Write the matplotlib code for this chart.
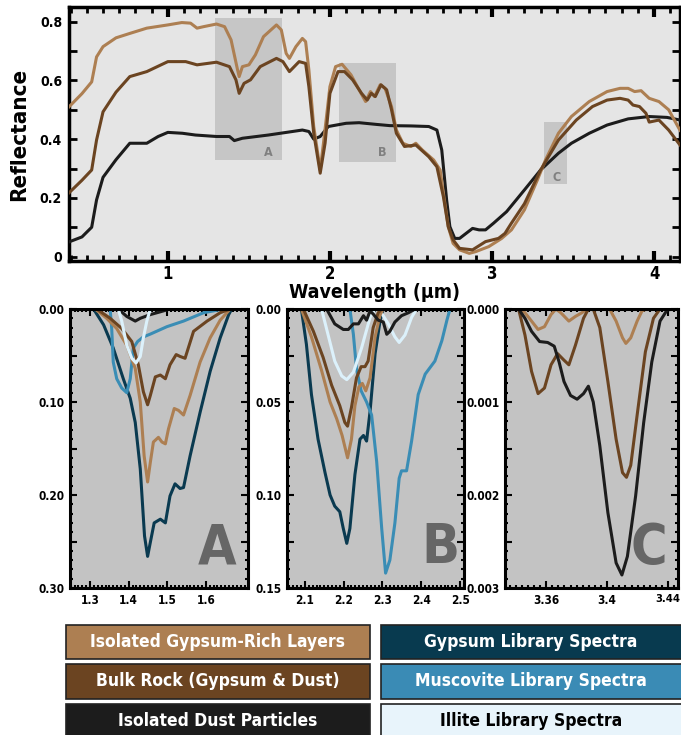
import numpy as np
import matplotlib.pyplot as plt
from matplotlib.patches import Rectangle
from matplotlib.ticker import MultipleLocator, FuncFormatter

plt.rcParams['font.family'] = ['DejaVu Sans']
plt.rcParams['font.stretch'] = 'condensed'
plt.rcParams['font.weight'] = 'bold'

# ---------------- colours ----------------
C_GYP_RICH = '#ad7f52'
C_BULK = '#6b4421'
C_DUST = '#1c1c1c'
C_GYP_LIB = '#0a3a50'
C_MUSC = '#3a8db5'
C_ILL = '#dcf1fb'

# ---------------- full spectra (top panel) ----------------
wl_rich = [0.39, 0.47, 0.53, 0.56, 0.60, 0.68, 0.765, 0.87, 1.0, 1.086, 1.14, 1.18, 1.22, 1.30,
           1.35, 1.39, 1.43, 1.44, 1.46, 1.50, 1.54, 1.59, 1.67, 1.70, 1.73, 1.75, 1.79, 1.83,
           1.85, 1.87, 1.90, 1.94, 1.96, 2.0, 2.035, 2.075, 2.13, 2.18, 2.22, 2.25, 2.275, 2.31,
           2.34, 2.38, 2.41, 2.45, 2.50, 2.53, 2.57, 2.64, 2.68, 2.70, 2.73, 2.76, 2.80, 2.86,
           2.90, 2.98, 3.06, 3.12, 3.20, 3.28, 3.33, 3.41, 3.49, 3.60, 3.71, 3.79, 3.84, 3.88,
           3.92, 3.97, 4.03, 4.09, 4.16]
r_rich = [0.51, 0.555, 0.595, 0.68, 0.715, 0.745, 0.76, 0.778, 0.789, 0.797, 0.795, 0.778, 0.783, 0.792,
          0.783, 0.738, 0.636, 0.613, 0.647, 0.653, 0.687, 0.749, 0.789, 0.772, 0.692, 0.675, 0.715, 0.743,
          0.732, 0.636, 0.443, 0.295, 0.386, 0.579, 0.647, 0.655, 0.619, 0.568, 0.528, 0.562, 0.545, 0.585,
          0.573, 0.511, 0.431, 0.386, 0.375, 0.386, 0.363, 0.329, 0.295, 0.216, 0.102, 0.045, 0.023, 0.011,
          0.017, 0.034, 0.062, 0.091, 0.159, 0.261, 0.329, 0.42, 0.477, 0.528, 0.562, 0.573, 0.573, 0.562,
          0.565, 0.539, 0.528, 0.50, 0.43]

wl_bulk = [0.39, 0.47, 0.53, 0.56, 0.60, 0.68, 0.765, 0.87, 1.0, 1.11, 1.18, 1.30, 1.38, 1.42,
           1.44, 1.47, 1.51, 1.57, 1.67, 1.71, 1.75, 1.81, 1.85, 1.87, 1.90, 1.94, 1.97, 2.0,
           2.05, 2.09, 2.14, 2.195, 2.23, 2.255, 2.28, 2.315, 2.35, 2.38, 2.41, 2.46, 2.53, 2.61,
           2.66, 2.70, 2.73, 2.76, 2.80, 2.88, 2.96, 3.04, 3.08, 3.12, 3.20, 3.30, 3.41, 3.52,
           3.62, 3.71, 3.79, 3.84, 3.87, 3.91, 3.95, 3.97, 4.03, 4.09, 4.16]
r_bulk = [0.217, 0.26, 0.295, 0.397, 0.493, 0.56, 0.613, 0.63, 0.664, 0.664, 0.653, 0.662, 0.647, 0.602,
          0.556, 0.59, 0.602, 0.647, 0.675, 0.664, 0.63, 0.664, 0.658, 0.579, 0.42, 0.284, 0.386, 0.556,
          0.63, 0.63, 0.602, 0.556, 0.533, 0.556, 0.545, 0.585, 0.568, 0.50, 0.42, 0.375, 0.38, 0.34,
          0.306, 0.204, 0.102, 0.057, 0.028, 0.023, 0.051, 0.062, 0.079, 0.114, 0.18, 0.295, 0.397, 0.465,
          0.511, 0.533, 0.539, 0.533, 0.516, 0.511, 0.488, 0.458, 0.465, 0.431, 0.38]

wl_dust = [0.39, 0.47, 0.53, 0.56, 0.60, 0.68, 0.765, 0.87, 0.94, 1.0, 1.09, 1.17, 1.30, 1.38,
           1.41, 1.46, 1.62, 1.83, 1.87, 1.90, 1.94, 1.99, 2.10, 2.18, 2.29, 2.37, 2.50, 2.61,
           2.66, 2.69, 2.72, 2.74, 2.77, 2.80, 2.84, 2.88, 2.92, 2.96, 3.01, 3.09, 3.20, 3.30,
           3.41, 3.49, 3.60, 3.71, 3.84, 3.97, 4.08, 4.16]
r_dust = [0.05, 0.067, 0.10, 0.193, 0.27, 0.33, 0.386, 0.386, 0.409, 0.423, 0.42, 0.414, 0.409, 0.409,
          0.395, 0.403, 0.414, 0.431, 0.426, 0.40, 0.409, 0.443, 0.454, 0.456, 0.45, 0.446, 0.445, 0.443,
          0.431, 0.363, 0.193, 0.102, 0.062, 0.062, 0.079, 0.096, 0.091, 0.091, 0.114, 0.153, 0.227, 0.295,
          0.352, 0.386, 0.42, 0.448, 0.469, 0.477, 0.474, 0.465]

# zoom windows drawn on the top panel
box_names = ['A', 'B', 'C']
box_x = [(1.293, 1.705), (2.057, 2.406), (3.32, 3.465)]
box_y = [(0.329, 0.813), (0.321, 0.66), (0.248, 0.458)]
box_label_pos = [(1.62, 0.356), (2.32, 0.353), (3.40, 0.27)]

# ---------------- band depth, window A ----------------
A_gyplib_wl = [1.309, 1.335, 1.36, 1.386, 1.404, 1.417, 1.43, 1.441, 1.449, 1.456, 1.466, 1.482, 1.495,
               1.507, 1.52, 1.533, 1.542, 1.559, 1.585, 1.611, 1.637, 1.659, 1.667]
A_gyplib = [0, 0.017, 0.042, 0.075, 0.096, 0.122, 0.172, 0.244, 0.266, 0.251, 0.23, 0.226, 0.23,
            0.201, 0.188, 0.193, 0.192, 0.158, 0.111, 0.067, 0.031, 0.006, 0]
A_rich_wl = [1.313, 1.343, 1.369, 1.395, 1.417, 1.43, 1.44, 1.449, 1.456, 1.464, 1.477, 1.486, 1.495,
             1.503, 1.518, 1.529, 1.542, 1.559, 1.585, 1.611, 1.637, 1.663]
A_rich = [0, 0.01, 0.021, 0.039, 0.064, 0.10, 0.158, 0.186, 0.165, 0.143, 0.138, 0.143, 0.145,
          0.129, 0.107, 0.109, 0.114, 0.093, 0.057, 0.031, 0.012, 0]
A_bulk_wl = [1.317, 1.352, 1.382, 1.408, 1.425, 1.438, 1.449, 1.456, 1.469, 1.482, 1.495, 1.507, 1.523,
             1.533, 1.546, 1.568, 1.603, 1.637, 1.663]
A_bulk = [0, 0.01, 0.021, 0.035, 0.06, 0.089, 0.103, 0.093, 0.073, 0.071, 0.075, 0.06, 0.049,
          0.051, 0.053, 0.024, 0.013, 0.004, 0]
A_musc_wl = [1.352, 1.356, 1.36, 1.369, 1.382, 1.395, 1.404, 1.412, 1.423, 1.438, 1.456, 1.499, 1.542,
             1.594, 1.646]
A_musc = [0, 0.021, 0.057, 0.075, 0.085, 0.09, 0.075, 0.042, 0.035, 0.03, 0.027, 0.019, 0.013,
          0.004, 0]
A_ill_wl = [1.373, 1.382, 1.395, 1.408, 1.419, 1.43, 1.438, 1.447, 1.456]
A_ill = [0, 0.013, 0.039, 0.053, 0.058, 0.051, 0.031, 0.013, 0]
A_dust_wl = [1.373, 1.395, 1.417, 1.43, 1.456, 1.482, 1.507]
A_dust = [0, 0.008, 0.013, 0.010, 0.006, 0.003, 0]

# ---------------- band depth, window B ----------------
B_gyplib_wl = [2.091, 2.104, 2.117, 2.134, 2.152, 2.165, 2.177, 2.19, 2.199, 2.208, 2.216, 2.229, 2.242,
               2.251, 2.259, 2.268, 2.281, 2.294, 2.302]
B_gyplib = [0, 0.019, 0.046, 0.07, 0.088, 0.10, 0.106, 0.109, 0.118, 0.126, 0.118, 0.089, 0.07,
            0.068, 0.071, 0.055, 0.024, 0.006, 0]
B_rich_wl = [2.091, 2.117, 2.143, 2.165, 2.182, 2.196, 2.21, 2.22, 2.229, 2.239, 2.248, 2.257, 2.268,
             2.281, 2.294, 2.302]
B_rich = [0, 0.015, 0.033, 0.05, 0.059, 0.068, 0.08, 0.07, 0.052, 0.042, 0.04, 0.044, 0.037,
          0.015, 0.003, 0]
B_bulk_wl = [2.096, 2.122, 2.147, 2.169, 2.19, 2.203, 2.21, 2.22, 2.233, 2.245, 2.255, 2.263, 2.276,
             2.289, 2.298]
B_bulk = [0, 0.012, 0.026, 0.041, 0.052, 0.061, 0.063, 0.053, 0.037, 0.031, 0.031, 0.028, 0.01,
          0.002, 0]
B_ill_wl = [2.143, 2.16, 2.177, 2.195, 2.208, 2.225, 2.246, 2.268, 2.281, 2.294, 2.315, 2.332, 2.343,
            2.358, 2.375, 2.388]
B_ill = [0, 0.014, 0.028, 0.036, 0.038, 0.034, 0.021, 0.0045, 0, 0.001, 0.008, 0.015, 0.018,
         0.014, 0.0045, 0]
B_musc_wl = [2.216, 2.225, 2.233, 2.245, 2.259, 2.272, 2.285, 2.298, 2.308, 2.319, 2.332, 2.343, 2.349,
             2.362, 2.375, 2.392, 2.41, 2.435, 2.453, 2.466, 2.474]
B_musc = [0, 0.0136, 0.032, 0.044, 0.05, 0.057, 0.082, 0.118, 0.142, 0.135, 0.115, 0.091, 0.087,
          0.087, 0.071, 0.046, 0.035, 0.028, 0.017, 0.006, 0]
B_dust_wl = [2.156, 2.177, 2.199, 2.212, 2.225, 2.238, 2.251, 2.259, 2.268, 2.276, 2.289, 2.302, 2.311,
             2.319, 2.332, 2.349, 2.367, 2.384]
B_dust = [0, 0.008, 0.011, 0.011, 0.008, 0.008, 0.0036, 0.006, 0.001, 0.0027, 0.006, 0.007, 0.0136,
          0.012, 0.007, 0.0036, 0.002, 0]

# ---------------- band depth, window C ----------------
C_dust_wl = [3.3419, 3.3461, 3.3504, 3.3557, 3.361, 3.3653, 3.3685, 3.3717, 3.376, 3.3803, 3.3845,
             3.3877, 3.3909, 3.3952, 3.4005, 3.4059, 3.4097, 3.4133, 3.4187, 3.424, 3.4293, 3.4347,
             3.4394, 3.4443]
C_dust = [0, 0.0001, 0.00024, 0.00035, 0.00036, 0.0004, 0.00057, 0.00078, 0.00093, 0.00097, 0.00091,
          0.00083, 0.001, 0.00147, 0.00219, 0.00273, 0.00286, 0.00266, 0.00201, 0.00122, 0.00057, 0.00013,
          0.00001, 0]
C_bulk_wl = [3.3419, 3.3461, 3.3504, 3.3547, 3.3589, 3.3632, 3.3675, 3.3717, 3.3749, 3.3792, 3.3845,
             3.3877, 3.3909, 3.3952, 3.4005, 3.4059, 3.4101, 3.4127, 3.4155, 3.4197, 3.4251, 3.4304,
             3.4347, 3.4443]
C_bulk = [0, 0.00028, 0.00067, 0.00091, 0.00085, 0.0006, 0.00048, 0.00055, 0.0006, 0.00039, 0.0001,
          0, 0, 0.0002, 0.00078, 0.0014, 0.00176, 0.00181, 0.00168, 0.00114, 0.00046, 0.0001,
          0, 0]
C_rich_wl = [3.3419, 3.3461, 3.3504, 3.3547, 3.3589, 3.3632, 3.3664, 3.3696, 3.3749, 3.3792, 3.3835,
             3.3867, 3.4016, 3.4059, 3.4101, 3.4123, 3.4155, 3.4197, 3.4229, 3.4261]
C_rich = [0, 0.00004, 0.00013, 0.00022, 0.00019, 0.00006, 0, 0.00004, 0.00013, 0.00008, 0.00004,
          0, 0, 0.00013, 0.00031, 0.00037, 0.00031, 0.00013, 0.00002, 0]

# ---------------- legend ----------------
legend_left = ['Isolated Gypsum-Rich Layers', 'Bulk Rock (Gypsum & Dust)', 'Isolated Dust Particles']
legend_left_col = [C_GYP_RICH, C_BULK, C_DUST]
legend_right = ['Gypsum Library Spectra', 'Muscovite Library Spectra', 'Illite Library Spectra']
legend_right_col = ['#083a4f', '#3a8bb5', '#e8f4fb']
legend_right_txt = ['white', 'white', 'black']

W, H = 681, 735
fig = plt.figure(figsize=(W / 100, H / 100), dpi=100)
fig.patch.set_facecolor('white')


def px_axes(x0, y0, x1, y1):
    return fig.add_axes([x0 / W, 1 - y1 / H, (x1 - x0) / W, (y1 - y0) / H])


def style_spines(ax, lw=2.2):
    for s in ax.spines.values():
        s.set_linewidth(lw)
        s.set_color('black')


# ---------- top panel ----------
ax = px_axes(69, 7, 680, 261)
ax.set_facecolor('#e5e5e5')
for (x0, x1), (y0, y1), name, (tx, ty) in zip(box_x, box_y, box_names, box_label_pos):
    ax.add_patch(Rectangle((x0, y0), x1 - x0, y1 - y0, facecolor='#c6c6c6', edgecolor='none', zorder=1))
    ax.text(tx, ty, name, color='#808080', fontsize=9, fontweight='bold', ha='center', va='center', zorder=2)

ax.plot(wl_dust, r_dust, color=C_DUST, lw=2.2, zorder=3)
ax.plot(wl_rich, r_rich, color=C_GYP_RICH, lw=2.2, zorder=4)
ax.plot(wl_bulk, r_bulk, color=C_BULK, lw=2.2, zorder=5)

ax.set_xlim(0.39, 4.16)
ax.set_ylim(-0.015, 0.85)
ax.xaxis.set_major_locator(MultipleLocator(1))
ax.xaxis.set_minor_locator(MultipleLocator(0.1))
ax.yaxis.set_major_locator(MultipleLocator(0.2))
ax.yaxis.set_minor_locator(MultipleLocator(0.1))
ax.yaxis.set_major_formatter(FuncFormatter(lambda v, p: '0' if abs(v) < 1e-9 else '%.1f' % v))
ax.tick_params(which='both', direction='in', top=True, right=True, width=2)
ax.tick_params(which='major', length=6)
ax.tick_params(which='minor', length=4)
ax.tick_params(axis='x', which='major', labelsize=12, pad=3, length=7, width=3)
ax.tick_params(axis='y', which='major', labelsize=10, pad=5)
ax.tick_params(axis='y', which='minor', length=6)
ax.set_ylabel('Reflectance', fontsize=16, fontweight='bold', labelpad=8)
ax.set_xlabel('Wavelength (\u00b5m)', fontsize=14, fontweight='bold', labelpad=0)
style_spines(ax, 2.5)


# ---------- zoom panels ----------
def zoom_panel(x0, x1, xlim, ylim, xmaj, xmin, ymaj, ymid, ymin, yfmt, xfmt, letter, lx):
    a = px_axes(x0, 309, x1, 588)
    a.set_facecolor('#c3c3c3')
    a.set_xlim(*xlim)
    a.set_ylim(ylim[1], ylim[0])
    a.set_xticks(xmaj)
    a.set_xticklabels([xfmt % v for v in xmaj])
    a.xaxis.set_minor_locator(MultipleLocator(xmin))
    a.set_yticks(ymid)
    a.set_yticklabels([yfmt % v if any(abs(v - m) < 1e-9 for m in ymaj) else '' for v in ymid])
    a.yaxis.set_minor_locator(MultipleLocator(ymin))
    a.tick_params(which='both', direction='in', top=True, right=True, width=1.5)
    a.tick_params(which='major', length=5, labelsize=8.5, pad=4)
    a.tick_params(which='minor', length=2.5)
    a.text(lx, 0.045, letter, transform=a.transAxes, fontsize=40, fontweight='bold',
           color='#666666', ha='center', va='bottom', zorder=1)
    style_spines(a, 2.2)
    return a


axA = zoom_panel(70, 248, (1.248, 1.709), (0, 0.30), [1.3, 1.4, 1.5, 1.6], 0.01,
                 [0, 0.1, 0.2, 0.3], [0, 0.05, 0.1, 0.15, 0.2, 0.25, 0.3], 0.01, '%.2f', '%.1f', 'A', 0.825)
axA.plot(A_dust_wl, A_dust, color=C_DUST, lw=2.2)
axA.plot(A_gyplib_wl, A_gyplib, color=C_GYP_LIB, lw=2.2)
axA.plot(A_musc_wl, A_musc, color=C_MUSC, lw=2.2)
axA.plot(A_rich_wl, A_rich, color=C_GYP_RICH, lw=2.2)
axA.plot(A_bulk_wl, A_bulk, color=C_BULK, lw=2.2)
axA.plot(A_ill_wl, A_ill, color=C_ILL, lw=2.2)

axB = zoom_panel(287, 464, (2.054, 2.51), (0, 0.15), [2.1, 2.2, 2.3, 2.4, 2.5], 0.01,
                 [0, 0.05, 0.1, 0.15], [0, 0.025, 0.05, 0.075, 0.1, 0.125, 0.15], 0.005, '%.2f', '%.1f',
                 'B', 0.865)
axB.plot(B_gyplib_wl, B_gyplib, color=C_GYP_LIB, lw=2.2)
axB.plot(B_musc_wl, B_musc, color=C_MUSC, lw=2.2)
axB.plot(B_ill_wl, B_ill, color=C_ILL, lw=2.2)
axB.plot(B_rich_wl, B_rich, color=C_GYP_RICH, lw=2.2)
axB.plot(B_bulk_wl, B_bulk, color=C_BULK, lw=2.2)
axB.plot(B_dust_wl, B_dust, color=C_DUST, lw=2.2)

axC = zoom_panel(505, 678, (3.333, 3.4465), (0, 0.003), [3.36, 3.40, 3.44], 0.004,
                 [0, 0.001, 0.002, 0.003], [0, 0.0005, 0.001, 0.0015, 0.002, 0.0025, 0.003], 0.0001,
                 '%.3f', '%g', 'C', 0.83)
axC.plot(C_rich_wl, C_rich, color=C_GYP_RICH, lw=2.2)
axC.plot(C_bulk_wl, C_bulk, color=C_BULK, lw=2.2)
axC.plot(C_dust_wl, C_dust, color=C_DUST, lw=2.2)
axC.get_xticklabels()[-1].set_fontsize(8)

# ---------- legend boxes ----------
leg = fig.add_axes([0, 0, 1, 120 / H])
leg.set_xlim(0, W)
leg.set_ylim(120, 0)
leg.axis('off')
row_top = [10, 49, 89]
row_h = [34, 35, 35]
for i in range(3):
    leg.add_patch(Rectangle((66, row_top[i]), 304, row_h[i], facecolor=legend_left_col[i],
                            edgecolor='#222222', lw=1.2, clip_on=False))
    leg.text(66 + 152, row_top[i] + row_h[i] / 2, legend_left[i], color='white', fontsize=12.5,
             fontweight='bold', ha='center', va='center')
    leg.add_patch(Rectangle((381, row_top[i]), 310, row_h[i], facecolor=legend_right_col[i],
                            edgecolor='#222222', lw=1.2, clip_on=False))
    leg.text(381 + 150, row_top[i] + row_h[i] / 2, legend_right[i], color=legend_right_txt[i],
             fontsize=12.5, fontweight='bold', ha='center', va='center')

fig.savefig('out.png', dpi=100)
